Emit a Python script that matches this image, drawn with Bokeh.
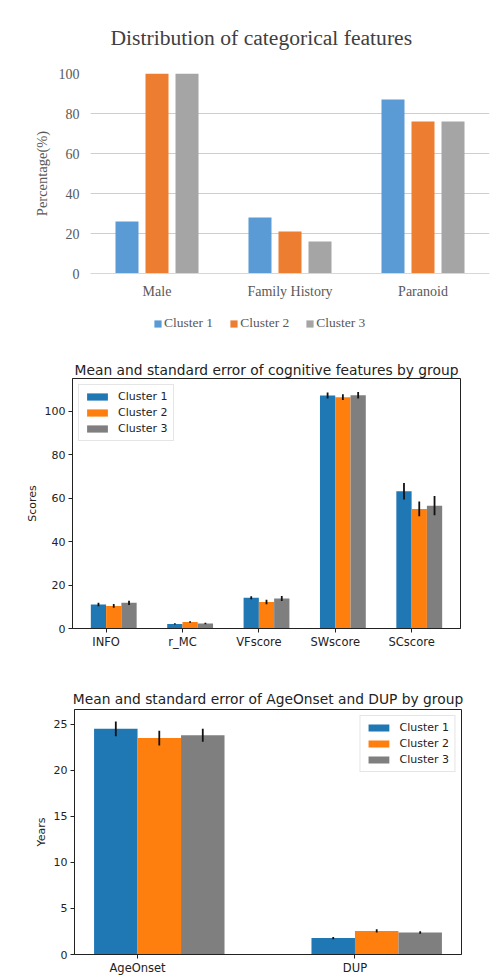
from bokeh.plotting import figure
from bokeh.models import (ColumnDataSource, FactorRange, Range1d, FixedTicker,
                          Legend, LegendItem)
from bokeh.transform import dodge
from bokeh.embed import file_html
from bokeh.resources import INLINE
import numpy as np

# ---------------- data ----------------
clusters = ["Cluster 1", "Cluster 2", "Cluster 3"]

cat_features = ["Male", "Family History", "Paranoid"]
cat_c1 = [26, 28, 87]
cat_c2 = [100, 21, 76]
cat_c3 = [100, 16, 76]

cog_features = ["INFO", "r_MC", "VFscore", "SWscore", "SCscore"]
cog_c1 = [11.0, 2.1, 14.1, 107.2, 63.1]
cog_c2 = [10.4, 3.0, 12.2, 106.4, 55.0]
cog_c3 = [11.8, 2.3, 13.8, 107.3, 56.5]
cog_e1 = [0.8, 0.3, 0.7, 1.4, 3.8]
cog_e2 = [0.9, 0.3, 1.0, 1.3, 3.4]
cog_e3 = [1.0, 0.4, 1.2, 1.5, 4.4]

age_features = ["AgeOnset", "DUP"]
age_c1 = [24.5, 1.78]
age_c2 = [23.5, 2.56]
age_c3 = [23.8, 2.39]
age_e1 = [0.8, 0.12]
age_e2 = [0.8, 0.18]
age_e3 = [0.7, 0.14]

# ---------------- figure 1 (Excel style) ----------------
excel_colors = ["#5B9BD5", "#ED7D31", "#A5A5A5"]
serif = "Liberation Serif"
txt_col = "#595959"
offsets1 = [-0.2256, 0.0, 0.2256]
cols1 = ["c1", "c2", "c3"]

src1 = ColumnDataSource(dict(cat=cat_features, c1=cat_c1, c2=cat_c2, c3=cat_c3))
xr1 = FactorRange(*cat_features)
p1 = figure(frame_width=399, frame_height=200, x_range=xr1,
            y_range=Range1d(0, 100), output_backend="svg", toolbar_location=None,
            min_border_left=90, min_border_right=8, min_border_top=71,
            min_border_bottom=26)
p1.title.text = "Distribution of categorical features"
p1.title.text_font = serif
p1.title.text_font_size = "21.6px"
p1.title.text_font_style = "normal"
p1.title.text_color = "#404040"
p1.title.align = "left"
p1.title.offset = 20
p1.title.standoff = 47

for k in range(3):
    p1.vbar(x=dodge("cat", offsets1[k], range=xr1), top=cols1[k], width=0.173,
            source=src1, fill_color=excel_colors[k], line_color=None)

p1.outline_line_color = None
p1.xgrid.grid_line_color = None
p1.ygrid.grid_line_color = "#BDD1EA"
p1.ygrid.grid_line_width = 1
p1.yaxis.ticker = FixedTicker(ticks=[0, 20, 40, 60, 80, 100])
p1.yaxis.axis_line_color = None
p1.yaxis.major_tick_line_color = None
p1.yaxis.minor_tick_line_color = None
p1.yaxis.major_label_standoff = 5
p1.yaxis.major_label_text_font = serif
p1.yaxis.major_label_text_font_size = "14px"
p1.yaxis.major_label_text_color = txt_col
p1.yaxis.axis_label = "Percentage(%)"
p1.yaxis.axis_label_text_font = serif
p1.yaxis.axis_label_text_font_size = "14.5px"
p1.yaxis.axis_label_text_font_style = "normal"
p1.yaxis.axis_label_text_color = txt_col
p1.yaxis.axis_label_standoff = 6
p1.xaxis.axis_line_color = "#D0D8E4"
p1.xaxis.major_tick_line_color = None
p1.xaxis.minor_tick_line_color = None
p1.xaxis.major_label_standoff = 4
p1.xaxis.major_label_text_font = serif
p1.xaxis.major_label_text_font_size = "14px"
p1.xaxis.major_label_text_color = txt_col

# legend strip of figure 1 (legend glyphs come from hidden copies of the bars)
pl = figure(width=497, height=39, x_range=xr1, y_range=Range1d(0, 100),
            x_axis_type=None, y_axis_type=None, output_backend="svg",
            toolbar_location=None, min_border=0)
pl.grid.grid_line_color = None
pl.outline_line_color = None
leg_r = []
for k in range(3):
    r = pl.vbar(x=dodge("cat", offsets1[k], range=xr1), top=cols1[k], width=0.173,
                source=src1, fill_color=excel_colors[k], line_color=None)
    r.visible = False
    leg_r.append(r)
leg1 = Legend(items=[LegendItem(label=clusters[k], renderers=[leg_r[k]]) for k in range(3)],
              orientation="horizontal", location=(153, 9), margin=0, glyph_width=9,
              glyph_height=9, label_standoff=2, spacing=16, padding=6,
              border_line_color=None, background_fill_alpha=0, label_text_font=serif,
              label_text_font_size="13.5px", label_text_color=txt_col, label_height=14)
pl.add_layout(leg1, "center")

# ---------------- matplotlib style helper ----------------
mpl_colors = ["#1f77b4", "#ff7f0e", "#7f7f7f"]
sans = "DejaVu Sans"
w = 0.2


def mpl_fig(fw, fh, features, vals, errs, yrange, yticks, ylabel, title,
            border_top, border_bottom, border_left, border_right, legend_loc, title_standoff):
    n = len(features)
    idx = np.arange(n)
    x_lo = -w - 0.05 * (n - 1 + 4 * w)
    x_hi = n - 1 + 2 * w + 0.05 * (n - 1 + 4 * w)
    p = figure(frame_width=fw, frame_height=fh, x_range=Range1d(x_lo, x_hi),
               y_range=Range1d(*yrange), output_backend="svg", toolbar_location=None,
               min_border_top=border_top, min_border_bottom=border_bottom,
               min_border_left=border_left, min_border_right=border_right)
    p.title.text = title
    p.title.text_font = sans
    p.title.text_font_size = "13.8px"
    p.title.text_font_style = "normal"
    p.title.text_color = "#222222"
    p.title.align = "center"
    p.title.standoff = title_standoff
    items = []
    for k in range(3):
        xs = idx + (k - 0.5) * w
        src = ColumnDataSource(dict(x=xs, top=vals[k], lo=np.array(vals[k]) - np.array(errs[k]),
                                    hi=np.array(vals[k]) + np.array(errs[k])))
        r = p.vbar(x="x", top="top", width=w, source=src, fill_color=mpl_colors[k],
                   line_color=None)
        p.segment(x0="x", y0="lo", x1="x", y1="hi", source=src, line_color="#111111",
                  line_width=1.8)
        items.append(LegendItem(label=clusters[k], renderers=[r]))
    p.xgrid.grid_line_color = None
    p.ygrid.grid_line_color = None
    p.outline_line_color = "#222222"
    p.outline_line_width = 1
    p.xaxis.ticker = FixedTicker(ticks=list(range(n)))
    p.xaxis.major_label_overrides = {i: features[i] for i in range(n)}
    p.yaxis.ticker = FixedTicker(ticks=yticks)
    for ax in (p.xaxis, p.yaxis):
        ax.axis_line_color = "#222222"
        ax.major_tick_line_color = "#222222"
        ax.major_tick_out = 4
        ax.major_tick_in = 0
        ax.minor_tick_line_color = None
        ax.major_label_text_font = sans
        ax.major_label_text_color = "#222222"
        ax.major_label_standoff = 3
    p.yaxis.major_label_text_font_size = "11px"
    p.xaxis.major_label_text_font_size = "11.5px"
    p.xaxis.major_label_standoff = 2
    p.yaxis.axis_label = ylabel
    p.yaxis.axis_label_text_font = sans
    p.yaxis.axis_label_text_font_size = "11px"
    p.yaxis.axis_label_text_font_style = "normal"
    p.yaxis.axis_label_text_color = "#222222"
    p.yaxis.axis_label_standoff = 3
    leg = Legend(items=items, location=legend_loc, margin=6, padding=5, spacing=3,
                 glyph_width=26, glyph_height=9, label_height=13, label_standoff=8,
                 label_text_font=sans, label_text_font_size="11px",
                 label_text_color="#222222", border_line_color="#CCCCCC",
                 border_line_width=1, background_fill_alpha=0.8)
    p.add_layout(leg, "center")
    return p


p2 = mpl_fig(388, 250, cog_features, [cog_c1, cog_c2, cog_c3], [cog_e1, cog_e2, cog_e3],
             (0, 115), [0, 20, 40, 60, 80, 100], "Scores",
             "Mean and standard error of cognitive features by group",
             38, 22, 72, 37, "top_left", 2)

p3 = mpl_fig(387, 245, age_features, [age_c1, age_c2, age_c3], [age_e1, age_e2, age_e3],
             (0, 26.6), [0, 5, 10, 15, 20, 25], "Years",
             "Mean and standard error of AgeOnset and DUP by group",
             58, 21, 74, 36, "top_right", 5)

open("out.html", "w").write(file_html([p1, pl, p2, p3], INLINE))
